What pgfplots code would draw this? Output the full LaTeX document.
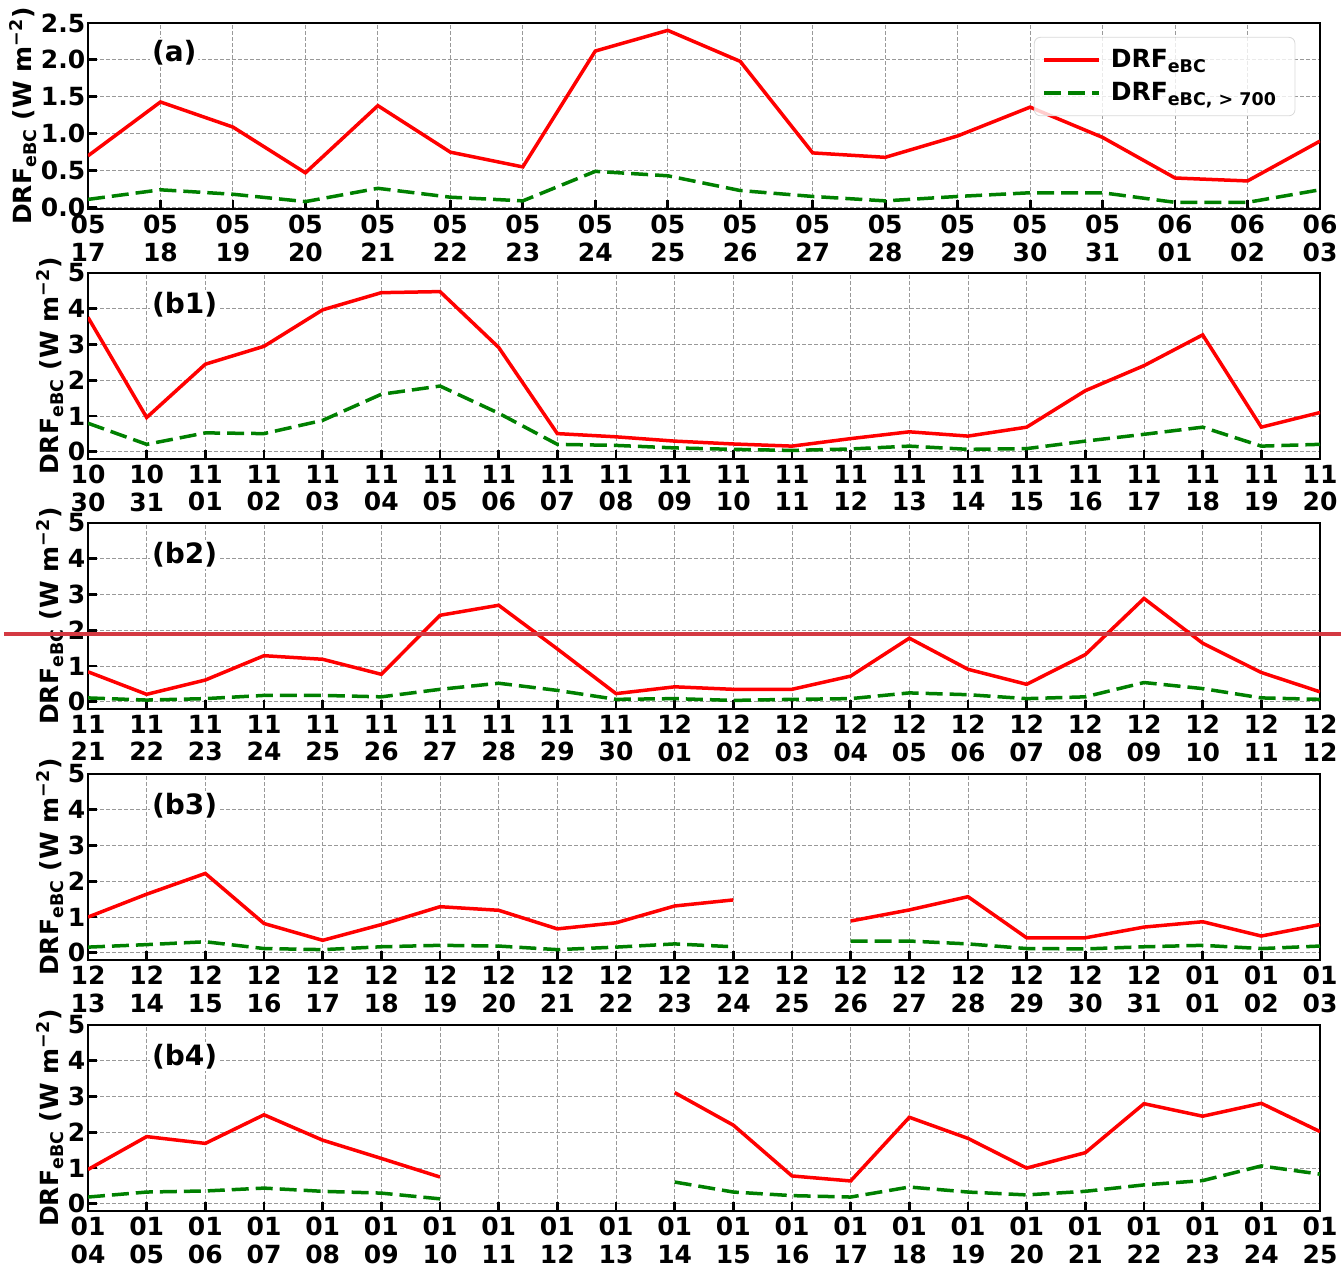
\documentclass[border=0pt]{standalone}
\usepackage{fontspec}
\setmainfont{DejaVu Sans}
\usepackage{pgfplots}
\pgfplotsset{compat=1.18}
\definecolor{hline}{RGB}{212,57,66}
\definecolor{dgreen}{RGB}{0,128,0}
\newcommand{\tfont}{\fontsize{12.5}{13.6}\selectfont\bfseries}
\tikzset{plab/.style={anchor=west, fill=white, inner sep=1pt, font=\fontsize{14}{16}\selectfont\bfseries}}
\pgfplotsset{
  panel/.style={
    width=616pt, height=93pt, scale only axis,
    anchor=north west,
    axis line style={line width=1.4pt, black},
    every tick/.style={line width=1.4pt, black},
    major tick length=4.5pt,
    tick align=inside,
    xtick pos=bottom, ytick pos=left,
    grid=major,
    major grid style={black!40, line width=0.5pt, dash pattern=on 2pt off 1pt},
    /pgf/number format/assume math mode=true,
    ticklabel style={font=\tfont},
    xticklabel style={align=center, inner sep=0.6pt, yshift=-2.4pt},
    yticklabel style={inner sep=0.6pt, xshift=-0.6pt},
    ylabel={DRF\textsubscript{eBC} (W m\textsuperscript{−2})},
    ylabel style={font=\fontsize{12.5}{14}\selectfont\bfseries, yshift=-2pt},
    unbounded coords=jump,
    legend style={font=\fontsize{12.5}{14}\selectfont\bfseries},
  },
  redl/.style={red, line width=1.75pt},
  grnl/.style={dgreen, line width=1.75pt, dash pattern=on 8.5pt off 3.5pt},
}
\begin{document}
\begin{tikzpicture}
% (a)
\begin{axis}[panel, at={(0pt,0pt)},
  xmin=0, xmax=17, ymin=-0.02, ymax=2.5,
  ytick={0,0.5,1,1.5,2,2.5},
  yticklabel style={/pgf/number format/fixed, /pgf/number format/fixed zerofill, /pgf/number format/precision=1},
  xtick={0,...,17},
  xticklabels={{05\\17},{05\\18},{05\\19},{05\\20},{05\\21},{05\\22},{05\\23},{05\\24},{05\\25},{05\\26},{05\\27},{05\\28},{05\\29},{05\\30},{05\\31},{06\\01},{06\\02},{06\\03}},
  legend style={at={(rel axis cs:0.98,0.925)}, anchor=north east, draw=black!15, fill=white, fill opacity=0.8, text opacity=1, rounded corners=3pt, row sep=2pt, inner xsep=4pt, inner ysep=4pt, nodes={inner xsep=5pt}},
  legend cell align=left,
  legend image code/.code={\draw[#1] (0pt,0pt) -- (27.5pt,0pt);},
]
\addplot[redl] coordinates {(0,0.70)(1,1.43)(2,1.09)(3,0.47)(4,1.38)(5,0.75)(6,0.55)(7,2.12)(8,2.40)(9,1.98)(10,0.74)(11,0.68)(12,0.97)(13,1.36)(14,0.95)(15,0.40)(16,0.36)(17,0.90)};
\addlegendentry{DRF\textsubscript{eBC}}
\addplot[grnl] coordinates {(0,0.11)(1,0.24)(2,0.18)(3,0.08)(4,0.26)(5,0.14)(6,0.09)(7,0.49)(8,0.43)(9,0.23)(10,0.15)(11,0.09)(12,0.15)(13,0.20)(14,0.20)(15,0.07)(16,0.07)(17,0.24)};
\addlegendentry{DRF\textsubscript{eBC, > 700}}
\node[plab] at (rel axis cs:0.05,0.84) {(a)};
\end{axis}
% (b1)
\begin{axis}[panel, at={(0pt,-125pt)},
  xmin=0, xmax=21, ymin=-0.2, ymax=5, ytick={0,...,5}, xtick={0,...,21},
  xticklabels={{10\\30},{10\\31},{11\\01},{11\\02},{11\\03},{11\\04},{11\\05},{11\\06},{11\\07},{11\\08},{11\\09},{11\\10},{11\\11},{11\\12},{11\\13},{11\\14},{11\\15},{11\\16},{11\\17},{11\\18},{11\\19},{11\\20}},
]
\addplot[redl] coordinates {(0,3.76)(1,0.96)(2,2.45)(3,2.95)(4,3.97)(5,4.45)(6,4.48)(7,2.92)(8,0.51)(9,0.42)(10,0.30)(11,0.22)(12,0.16)(13,0.37)(14,0.56)(15,0.44)(16,0.69)(17,1.71)(18,2.41)(19,3.27)(20,0.69)(21,1.10)};
\addplot[grnl] coordinates {(0,0.80)(1,0.21)(2,0.53)(3,0.51)(4,0.88)(5,1.61)(6,1.84)(7,1.08)(8,0.21)(9,0.18)(10,0.11)(11,0.07)(12,0.04)(13,0.08)(14,0.16)(15,0.07)(16,0.09)(17,0.30)(18,0.49)(19,0.69)(20,0.16)(21,0.21)};
\node[plab] at (rel axis cs:0.05,0.83) {(b1)};
\end{axis}
% (b2)
\begin{axis}[panel, at={(0pt,-250pt)},
  xmin=0, xmax=21, ymin=-0.2, ymax=5, ytick={0,...,5}, xtick={0,...,21},
  xticklabels={{11\\21},{11\\22},{11\\23},{11\\24},{11\\25},{11\\26},{11\\27},{11\\28},{11\\29},{11\\30},{12\\01},{12\\02},{12\\03},{12\\04},{12\\05},{12\\06},{12\\07},{12\\08},{12\\09},{12\\10},{12\\11},{12\\12}},
]
\addplot[redl] coordinates {(0,0.84)(1,0.21)(2,0.61)(3,1.29)(4,1.19)(5,0.77)(6,2.42)(7,2.70)(8,1.48)(9,0.23)(10,0.42)(11,0.35)(12,0.35)(13,0.72)(14,1.78)(15,0.91)(16,0.49)(17,1.32)(18,2.89)(19,1.64)(20,0.82)(21,0.28)};
\addplot[grnl] coordinates {(0,0.11)(1,0.05)(2,0.09)(3,0.18)(4,0.18)(5,0.14)(6,0.35)(7,0.52)(8,0.32)(9,0.07)(10,0.09)(11,0.04)(12,0.07)(13,0.09)(14,0.25)(15,0.20)(16,0.09)(17,0.14)(18,0.54)(19,0.37)(20,0.11)(21,0.07)};
\node[plab] at (rel axis cs:0.05,0.83) {(b2)};
\end{axis}
% (b3)
\begin{axis}[panel, at={(0pt,-375.5pt)},
  xmin=0, xmax=21, ymin=-0.2, ymax=5, ytick={0,...,5}, xtick={0,...,21},
  xticklabels={{12\\13},{12\\14},{12\\15},{12\\16},{12\\17},{12\\18},{12\\19},{12\\20},{12\\21},{12\\22},{12\\23},{12\\24},{12\\25},{12\\26},{12\\27},{12\\28},{12\\29},{12\\30},{12\\31},{01\\01},{01\\02},{01\\03}},
]
\addplot[redl] coordinates {(0,1.00)(1,1.64)(2,2.22)(3,0.82)(4,0.35)(5,0.79)(6,1.29)(7,1.19)(8,0.67)(9,0.84)(10,1.31)(11,1.48)(12,nan)(13,0.89)(14,1.20)(15,1.57)(16,0.42)(17,0.42)(18,0.72)(19,0.87)(20,0.47)(21,0.79)};
\addplot[grnl] coordinates {(0,0.16)(1,0.23)(2,0.31)(3,0.12)(4,0.09)(5,0.17)(6,0.21)(7,0.19)(8,0.09)(9,0.16)(10,0.25)(11,0.17)(12,nan)(13,0.33)(14,0.33)(15,0.25)(16,0.12)(17,0.11)(18,0.17)(19,0.21)(20,0.12)(21,0.19)};
\node[plab] at (rel axis cs:0.05,0.83) {(b3)};
\end{axis}
% (b4)
\begin{axis}[panel, at={(0pt,-501pt)},
  xmin=0, xmax=21, ymin=-0.2, ymax=5, ytick={0,...,5}, xtick={0,...,21},
  xticklabels={{01\\04},{01\\05},{01\\06},{01\\07},{01\\08},{01\\09},{01\\10},{01\\11},{01\\12},{01\\13},{01\\14},{01\\15},{01\\16},{01\\17},{01\\18},{01\\19},{01\\20},{01\\21},{01\\22},{01\\23},{01\\24},{01\\25}},
]
\addplot[redl] coordinates {(0,0.96)(1,1.88)(2,1.69)(3,2.49)(4,1.78)(5,1.27)(6,0.75)(7,nan)(8,nan)(9,nan)(10,3.11)(11,2.20)(12,0.78)(13,0.64)(14,2.42)(15,1.83)(16,1.00)(17,1.43)(18,2.80)(19,2.45)(20,2.81)(21,2.02)};
\addplot[grnl] coordinates {(0,0.19)(1,0.33)(2,0.36)(3,0.44)(4,0.35)(5,0.30)(6,0.14)(7,nan)(8,nan)(9,nan)(10,0.61)(11,0.33)(12,0.23)(13,0.19)(14,0.47)(15,0.33)(16,0.25)(17,0.35)(18,0.53)(19,0.65)(20,1.06)(21,0.83)};
\node[plab] at (rel axis cs:0.05,0.83) {(b4)};
\end{axis}
\draw[hline, line width=2pt] (-42pt,-305.5pt) -- (626.5pt,-305.5pt);
\pgfresetboundingbox
\path (-44pt,11.5pt) rectangle (626.5pt,-622pt);
\end{tikzpicture}
\end{document}
